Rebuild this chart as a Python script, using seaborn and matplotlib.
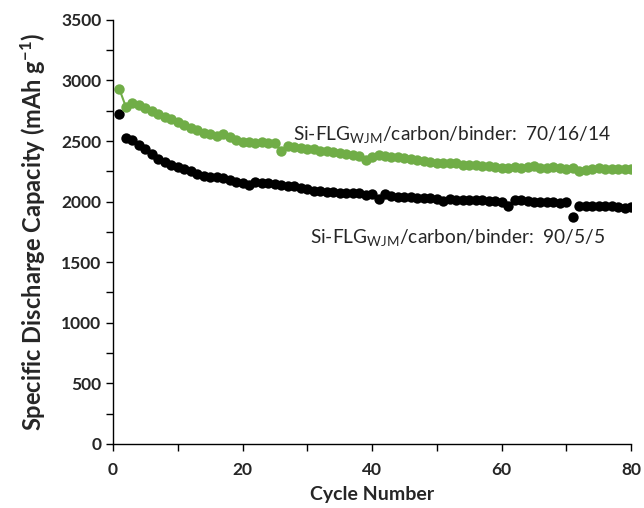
import numpy as np
import pandas as pd
import matplotlib
matplotlib.use('Agg')
import matplotlib.pyplot as plt
import seaborn as sns
from matplotlib.ticker import MultipleLocator

cycles = list(range(1, 81))

cap_70_16_14 = [2925, 2780, 2810, 2800, 2775, 2750, 2725, 2700, 2680, 2655,
                2630, 2610, 2590, 2570, 2555, 2545, 2555, 2530, 2505, 2495,
                2490, 2485, 2490, 2485, 2480, 2415, 2460, 2450, 2440, 2435,
                2430, 2420, 2415, 2410, 2400, 2395, 2385, 2375, 2340, 2370,
                2385, 2375, 2365, 2370, 2360, 2355, 2345, 2335, 2325, 2320,
                2315, 2320, 2315, 2305, 2305, 2300, 2295, 2290, 2285, 2275,
                2280, 2285, 2280, 2285, 2290, 2280, 2275, 2285, 2280, 2270,
                2275, 2250, 2260, 2270, 2275, 2270, 2265, 2270, 2265, 2265]

cap_90_5_5 = [2720, 2525, 2505, 2465, 2430, 2390, 2355, 2330, 2305, 2285,
              2270, 2250, 2230, 2215, 2205, 2200, 2195, 2180, 2165, 2150,
              2135, 2160, 2155, 2150, 2145, 2140, 2130, 2125, 2110, 2100,
              2085, 2085, 2080, 2080, 2075, 2075, 2070, 2070, 2055, 2060,
              2020, 2060, 2045, 2040, 2040, 2035, 2030, 2030, 2030, 2025,
              2005, 2020, 2015, 2015, 2015, 2010, 2010, 2005, 2005, 2000,
              1960, 2015, 2010, 2005, 2000, 1995, 1995, 1995, 1990, 1995,
              1870, 1965, 1965, 1965, 1960, 1960, 1960, 1955, 1945, 1955]

df = pd.DataFrame({'cycle': cycles, 'a': cap_70_16_14, 'b': cap_90_5_5})

sns.set_style('white')
plt.rcParams['font.family'] = ['Lato', 'DejaVu Sans']
plt.rcParams['mathtext.default'] = 'regular'

fig, ax = plt.subplots(figsize=(6.44, 5.08), dpi=100)
fig.subplots_adjust(left=0.1755, right=0.98, bottom=0.126, top=0.961)

sns.lineplot(data=df, x='cycle', y='a', color='#70AD47', marker='o',
             markersize=7.5, markeredgewidth=0, linewidth=1.5, ax=ax)
sns.scatterplot(data=df, x='cycle', y='b', color='black', s=56,
                linewidth=0, ax=ax)

ax.set_xlim(0, 80)
ax.set_ylim(0, 3500)
ax.xaxis.set_major_locator(MultipleLocator(20))
ax.xaxis.set_minor_locator(MultipleLocator(10))
ax.yaxis.set_major_locator(MultipleLocator(500))
ax.yaxis.set_minor_locator(MultipleLocator(250))
ax.tick_params(which='both', direction='out', length=5, width=1,
               color='black', left=True, bottom=True)
ax.tick_params(axis='x', pad=8)
ax.tick_params(labelsize=12.5)
for lab in ax.get_xticklabels() + ax.get_yticklabels():
    lab.set_fontweight('bold')

for side in ['top', 'right']:
    ax.spines[side].set_visible(False)
for side in ['left', 'bottom']:
    ax.spines[side].set_color('black')
    ax.spines[side].set_linewidth(1)

ax.set_xlabel('Cycle Number', fontsize=14, fontweight='bold', labelpad=6)
ax.set_ylabel('Specific Discharge Capacity (mAh g$^{-1}$)', fontsize=17,
              fontweight='bold', labelpad=9)

ax.text(27.8, 2510, 'Si-FLG$_{WJM}$/carbon/binder:  70/16/14', fontsize=13.8,
        va='baseline')
ax.text(30.4, 1660, 'Si-FLG$_{WJM}$/carbon/binder:  90/5/5', fontsize=13.8,
        va='baseline')

fig.savefig('out.png', dpi=100)
